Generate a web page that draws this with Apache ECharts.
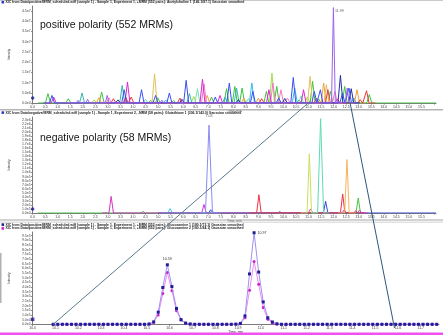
<!DOCTYPE html>
<html><head><meta charset="utf-8">
<script src="https://cdn.jsdelivr.net/npm/echarts@6/dist/echarts.min.js"></script>
<style>html,body{margin:0;padding:0;background:#fff;}#chart{width:443px;height:335px;}</style>
</head><body><div id="chart"></div>
<script>
// ================= DATA =================
// Panel 1 – positive polarity: peaks [retention time (min), height (x1e6 counts)]
const posGreen   = [[0.61,4.6],[1.42,2.1],[2.75,5.4],[4.71,1.3],[4.99,2.6],[5.62,1.2],[7.13,2.9],[7.73,7.0],[8.06,8.1],[8.35,7.3],[9.32,5.7],[9.73,8.1],[10.62,1.5],[11.16,10.6],[11.87,5.7],[12.44,8.1],[13.42,4.1]];
const posLime    = [[2.45,1.5],[6.42,3.2],[9.54,14.6],[10.95,3.0]];
const posBlue    = [[0.77,3.7],[3.65,6.5],[4.34,6.5],[4.90,3.7],[5.45,4.9],[6.12,11.1],[7.28,2.9],[7.84,9.8],[8.78,5.7],[9.81,2.4],[10.39,12.5],[11.23,5.7],[11.47,6.5],[12.35,4.9],[12.61,7.3]];
const posNavy    = [[3.40,1.5],[5.95,1.8],[8.20,1.6],[10.05,2.2],[12.27,13.5],[12.70,7.0]];
const posMagenta = [[0.84,2.9],[3.78,10.3],[6.77,11.6],[7.47,3.7],[9.42,6.5],[10.80,6.5],[12.15,2.0]];
const posPink    = [[3.04,2.6],[6.83,9.4],[9.58,9.8],[9.90,6.5],[10.16,2.4],[12.05,5.7]];
const posPurple  = [[1.81,1.3],[2.19,1.8],[2.97,3.7],[5.15,1.4],[11.99,46.7],[12.54,7.3]];
const posTeal    = [[1.97,4.9],[3.57,8.6],[6.25,4.6],[7.67,2.9],[8.13,7.3],[11.40,2.0]];
const posMint    = [[4.50,1.8],[6.57,7.0],[8.60,2.2],[10.70,3.5]];
const posCyan    = [[5.30,1.5],[8.74,9.8],[10.45,7.3],[12.80,2.5]];
const posTan     = [[4.86,14.3],[11.06,13.0],[11.71,8.9]];
const posOrange  = [[2.64,2.6],[6.96,3.7],[8.42,2.4],[9.00,2.4],[11.60,9.8],[12.93,6.5]];
const posRed     = [[3.22,2.1],[3.71,2.9],[3.93,2.9],[5.87,2.4],[9.13,2.1],[11.32,2.4],[11.77,6.5],[13.06,1.6],[13.31,6.0]];
const posApex    = [[11.99,46.7,'11.99']];
const posMarker  = [[0,2.4]];

// Panel 2 – negative polarity: peaks [retention time (min), height (x1e5 counts)]
const negGreen   = [[4.40,0.4],[12.98,3.7]];
const negMagenta = [[3.13,4.1],[6.83,2.1],[11.08,1.0],[12.42,0.8],[13.03,0.7]];
const negCyan    = [[5.48,1.1],[7.15,0.6]];
const negPeri    = [[7.03,21.7]];
const negRed     = [[9.02,4.5],[12.36,4.7],[12.88,0.5]];
const negLime    = [[11.03,14.6]];
const negMint    = [[11.48,23.3]];
const negBlue    = [[7.10,0.8],[9.85,0.3],[11.68,2.9]];
const negOrange  = [[12.53,13.2]];
const negApex    = [[7.03,21.7,'7.03']];
const negMarker  = [[0,1.0]];

// Panel 3 – zoomed XIC, sampled points: time (min) and intensities (x1e5 counts)
const zoomTime = [10.09,10.11,10.13,10.15,10.17,10.19,10.21,10.23,10.25,10.27,
  10.29,10.31,10.33,10.35,10.37,10.39,10.41,10.43,10.45,10.47,
  10.49,10.51,10.53,10.55,10.57,10.59,10.61,10.63,10.65,10.67,
  10.69,10.71,10.73,10.75,10.77,10.79,10.81,10.83,10.85,10.87,
  10.89,10.91,10.93,10.95,10.97,10.99,11.01,11.03,11.05,11.07,
  11.09,11.11,11.13,11.15,11.17,11.19,11.21,11.23,11.25,11.27,
  11.29,11.31,11.33,11.35,11.37,11.39,11.41,11.43,11.45,11.47,
  11.49,11.51,11.53,11.55,11.57,11.59,11.61,11.63,11.65,11.67,
  11.69,11.71,11.73,11.75,11.77];
const zoomBlue = [0,0,0,0,0,0,0,0,0,0, 0,0,0,0,0,0,0,0,0,0,
  0,0.03,0.26,1.3,3.95,6.38,4.05,1.7,0.5,0.13,
  0.03,0,0,0,0,0,0,0,0,0,
  0.02,0.1,0.9,5.4,9.82,5.6,2.4,0.7,0.25,0.05,
  0,0,0,0,0,0,0,0,0,0, 0,0,0,0,0,0,0,0,0,0, 0,0,0,0,0,0,0,0,0,0, 0,0,0,0,0];
const zoomMagenta = [0,0,0,0,0,0,0,0,0,0, 0,0,0,0,0,0,0,0,0,0,
  0,0.02,0.2,1.0,3.3,5.56,3.6,1.45,0.45,0.1,
  0.02,0,0,0,0,0,0,0,0,0,
  0.01,0.05,0.7,3.65,6.73,4.3,1.8,0.55,0.15,0.03,
  0,0,0,0,0,0,0,0,0,0, 0,0,0,0,0,0,0,0,0,0, 0,0,0,0,0,0,0,0,0,0, 0,0,0,0,0];
const zoomLabels = [[25,'10.59','top'],[44,'10.97','right']];
const zoomMarker = [[10.0,0.53]];

// axis tick steps
const posYStep = 5e6, negYStep = 1e5, zoomYStep = 5e4, timeStep = 0.5, zoomTimeStep = 0.1;

// ================= CHART =================
const chart = echarts.init(document.getElementById('chart'), null, {renderer:'canvas'});
const FONT = 'Liberation Sans, Arial, sans-serif';
const sci = v => { if (Math.abs(v) < 1e-9) return '0.0e0'; const e = Math.floor(Math.log10(v) + 1e-9); return (v/Math.pow(10,e)).toFixed(1) + 'e' + e; };

function trace(peaks, scale, hw, t0, t1) {
  const p = peaks.slice().sort((a,b)=>a[0]-b[0]);
  const d = [[t0 != null ? t0 : p[0][0]-0.35, 0]];
  p.forEach(([t,h]) => { d.push([t-hw,0],[t,h*scale],[t+hw,0]); });
  d.push([t1 != null ? t1 : p[p.length-1][0]+0.35, 0]);
  return d;
}
function lineS(ax, data, color, w) {
  return {type:'line', xAxisIndex:ax, yAxisIndex:ax, data, showSymbol:false, symbol:'none',
    lineStyle:{color, width:w||1}, itemStyle:{color}, silent:true, animation:false, z:2};
}
function xAx(g, min, max, step, hideAbove, gap) {
  return {type:'value', gridIndex:g, min, max, interval:step,
    name:'Time, min', nameLocation:'middle', nameGap:gap, nameTextStyle:{fontSize:3.4, color:'#333', fontFamily:FONT},
    axisLine:{show:true, lineStyle:{color:'#7a7a7a', width:1}},
    axisTick:{show:true, length:1.5, lineStyle:{color:'#7a7a7a'}},
    axisLabel:{fontSize:3.5, color:'#444', margin:1.8, fontFamily:FONT, showMaxLabel:false,
      formatter: v => v > hideAbove ? '' : v.toFixed(1)},
    splitLine:{show:false}};
}
function yAx(g, max, step) {
  return {type:'value', gridIndex:g, min:0, max, interval:step,
    name:'Intensity', nameLocation:'middle', nameRotate:90, nameGap:14, nameTextStyle:{fontSize:3, color:'#333', fontFamily:FONT},
    axisLine:{show:true, lineStyle:{color:'#7a7a7a', width:1}},
    axisTick:{show:true, length:1.5, lineStyle:{color:'#7a7a7a'}},
    axisLabel:{fontSize:3.5, color:'#444', margin:2, fontFamily:FONT, showMaxLabel:false, formatter: sci},
    splitLine:{show:false}};
}

const E6 = 1e6, E5 = 1e5;
const series = [];
// panel 1
[[posGreen,'#3ec43e',0.2,16.08],[posLime,'#9fe04a'],[posTeal,'#35b8a8'],[posMint,'#6fe0b0'],[posCyan,'#39b9ea'],
 [posOrange,'#f0a040'],[posTan,'#e2bf5a'],[posRed,'#e83a3a'],[posPink,'#f47ac8'],[posMagenta,'#d82ad0'],
 [posNavy,'#2030a0'],[posBlue,'#3a4ff0'],[posPurple,'#9a63ea']].forEach(([pk,c,a,b]) => {
  const hw = c === '#9a63ea' ? 0.075 : 0.1;
  series.push(lineS(0, trace(pk, E6, hw, a, b), c));
});
series.push({type:'scatter', xAxisIndex:0, yAxisIndex:0, data:posMarker.map(p=>[p[0],p[1]*E6]), symbol:'circle', symbolSize:3.5,
  itemStyle:{color:'#1a1a9a'}, silent:true, animation:false, z:5});
series.push({type:'scatter', xAxisIndex:0, yAxisIndex:0, data:posApex.map(p=>({value:[p[0],p[1]*E6], label:{show:true, formatter:p[2]}})),
  symbolSize:1, itemStyle:{color:'rgba(0,0,0,0)'}, label:{position:'right', distance:1, fontSize:3.6, color:'#333', fontFamily:FONT, offset:[0,3]}, silent:true, animation:false, z:6});
// panel 2
[[negGreen,'#45c445',0.2,9.0],[negBlue,'#3448d8',5.0,16.08],[negCyan,'#40cfe0'],[negMagenta,'#d534c8'],[negRed,'#ec3344'],
 [negLime,'#c8e05c'],[negOrange,'#f6b45a'],[negMint,'#5cdcb6'],[negPeri,'#8c8cf2']].forEach(([pk,c,a,b]) => {
  const hw = c === '#8c8cf2' ? 0.14 : (c === '#5cdcb6' ? 0.12 : 0.09);
  series.push(lineS(1, trace(pk, E5, hw, a, b), c));
});
series.push({type:'scatter', xAxisIndex:1, yAxisIndex:1, data:negMarker.map(p=>[p[0],p[1]*E5]), symbol:'circle', symbolSize:3.5,
  itemStyle:{color:'#1a1a9a'}, silent:true, animation:false, z:5});
series.push({type:'scatter', xAxisIndex:1, yAxisIndex:1, data:negApex.map(p=>({value:[p[0],p[1]*E5], label:{show:true, formatter:p[2]}})),
  symbolSize:1, itemStyle:{color:'rgba(0,0,0,0)'}, label:{position:'top', distance:7, fontSize:3.6, color:'#333', fontFamily:FONT}, silent:true, animation:false, z:6});
// panel 3
const lbl = {}; zoomLabels.forEach(l => lbl[l[0]] = l);
const zMag = zoomTime.map((t,i) => [t, zoomMagenta[i]*E5]);
const zBlue = zoomTime.map((t,i) => lbl[i] ? {value:[t, zoomBlue[i]*E5], label:{show:true, formatter:lbl[i][1], position:lbl[i][2], distance:2, fontSize:3.6, color:'#333', fontFamily:FONT}} : [t, zoomBlue[i]*E5]);
series.push({type:'line', xAxisIndex:2, yAxisIndex:2, data:zMag, symbol:'circle', symbolSize:3, showSymbol:true,
  lineStyle:{color:'#f28af0', width:1}, itemStyle:{color:'#cc22cc'}, silent:true, animation:false, z:3});
series.push({type:'line', xAxisIndex:2, yAxisIndex:2, data:zBlue, symbol:'rect', symbolSize:3, showSymbol:true,
  lineStyle:{color:'#9c92f2', width:1}, itemStyle:{color:'#1e1e96'}, silent:true, animation:false, z:4});
series.push({type:'scatter', xAxisIndex:2, yAxisIndex:2, data:zoomMarker.map(p=>[p[0],p[1]*E5]), symbol:'rect', symbolSize:3.5,
  itemStyle:{color:'#1a1a9a'}, silent:true, animation:false, z:5});

chart.setOption({
  backgroundColor:'#ffffff',
  animation:false,
  grid:[{left:20, right:7, top:6, height:97},
        {left:20, right:7, top:117, height:96},
        {left:19, right:4, top:232, height:93}],
  xAxis:[xAx(0, 0, 16.08, timeStep, 15.6, 5), xAx(1, 0, 16.08, timeStep, 15.6, 5), xAx(2, 10.0, 11.78, zoomTimeStep, 11.75, 5)],
  yAxis:[yAx(0, 4.75e7, posYStep), yAx(1, 2.37e6, negYStep), yAx(2, 9.9e5, zoomYStep)],
  series
});

// ---------- annotations (headers, captions, zoom connectors) ----------
const P = (g, v) => chart.convertToPixel({gridIndex:g}, v);
const a1 = P(2, [10.09, 0]), b1 = P(0, [11.08, 1.0e6]);
const a2 = P(2, [11.585, -0.4e5]), b2 = P(0, [12.65, 0.4e6]);
const hdr = (x, y, txt, sq) => [
  {type:'rect', shape:{x:x, y:y-1.3, width:2.6, height:2.6}, style:{fill:sq}, z:20},
  {type:'text', x:x+4, y:y, style:{text:txt, fontSize:3.4, fontWeight:'bold', fill:'#222', fontFamily:FONT, verticalAlign:'middle'}, z:20}];
chart.setOption({graphic:[
  {type:'rect', shape:{x:0, y:0, width:443, height:0.8}, style:{fill:'#b8b8b8'}, z:19},
  {type:'rect', shape:{x:0, y:109, width:443, height:1.5}, style:{fill:'#b4b4b4'}, z:19},
  {type:'rect', shape:{x:0, y:219.5, width:443, height:1}, style:{fill:'#a8a8a8'}, z:19},
  {type:'rect', shape:{x:0, y:221.8, width:443, height:0.8}, style:{fill:'#c4c4c4'}, z:19},
  {type:'rect', shape:{x:0, y:332.5, width:443, height:2.5}, style:{fill:'#f050f0'}, z:19},
  {type:'rect', shape:{x:0, y:253, width:1.5, height:50}, style:{fill:'#b0b0b0'}, z:19},
  ...hdr(1.5, 2.2, 'XIC from Data/positive/MRM_scheduled.wiff (sample 1) - Sample 1, Experiment 1, +MRM (552 pairs): Acetylcholine 1 (146.1/87.1) Gaussian smoothed', '#2a3ac8'),
  ...hdr(1.5, 112.6, 'XIC from Data/negative/MRM_scheduled.wiff (sample 1) - Sample 1, Experiment 2, -MRM (58 pairs): Glutathione 1 (306.1/143.0) Gaussian smoothed', '#2a3ac8'),
  ...hdr(1.5, 224.6, 'XIC from Data/positive/MRM_scheduled.wiff (sample 1) - Sample 1, Experiment 1, +MRM (552 pairs): Glucosamine 1 (180.1/72.1) Gaussian smoothed', '#1e1e96'),
  ...hdr(1.5, 228.4, 'XIC from Data/positive/MRM_scheduled.wiff (sample 1) - Sample 1, Experiment 1, +MRM (552 pairs): Glucosamine 2 (180.1/84.1) Gaussian smoothed', '#cc22cc'),
  {type:'text', x:40, y:25, style:{text:'positive polarity (552 MRMs)', fontSize:10.5, fill:'#151515', fontFamily:FONT, verticalAlign:'middle'}, z:20},
  {type:'text', x:40, y:138, style:{text:'negative polarity (58 MRMs)', fontSize:10.5, fill:'#151515', fontFamily:FONT, verticalAlign:'middle'}, z:20},
  {type:'line', shape:{x1:a1[0], y1:a1[1], x2:b1[0], y2:b1[1]}, style:{stroke:'#5a7b8c', lineWidth:1}, z:30},
  {type:'line', shape:{x1:a2[0], y1:a2[1], x2:b2[0], y2:b2[1]}, style:{stroke:'#30577a', lineWidth:1}, z:30}
]});
</script>
</body></html>
